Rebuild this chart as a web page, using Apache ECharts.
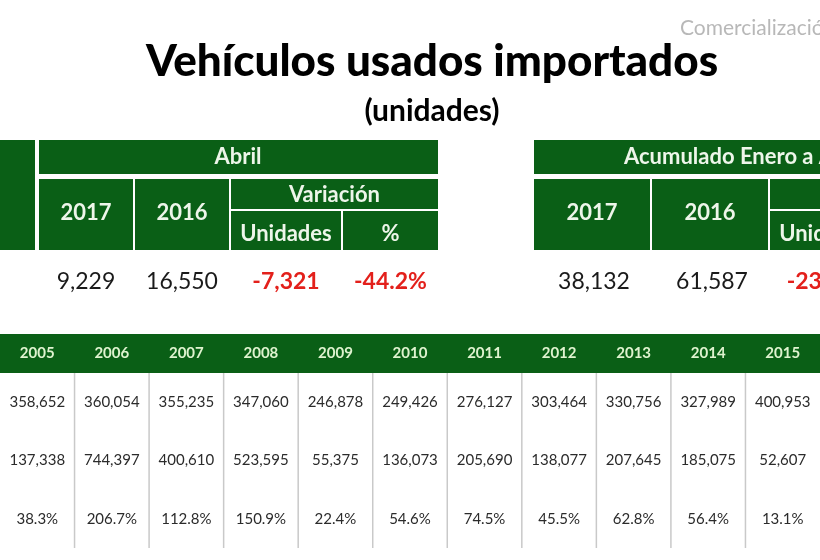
<!DOCTYPE html>
<html>
<head>
<meta charset="utf-8">
<script src="https://cdn.jsdelivr.net/npm/echarts@6/dist/echarts.min.js"></script>
<style>html,body{margin:0;padding:0;background:#fff}#c{width:820px;height:560px}</style>
</head>
<body>
<div id="c"></div>
<script>
// ---- data ----
var titleText = 'Vehículos usados importados';
var subtitleText = '(unidades)';
var cornerText = 'Comercialización';
var abrilHeader = 'Abril';
var acumHeader = 'Acumulado Enero a Abril';
var periodCols = ['2017', '2016'];
var variationHeader = 'Variación';
var variationCols = ['Unidades', '%'];
var abrilValues = [9229, 16550, -7321, -44.2];
var acumValues = [38132, 61587, -23455, -38.1];

var years = ['2005','2006','2007','2008','2009','2010','2011','2012','2013','2014','2015'];
var rowA = [358652, 360054, 355235, 347060, 246878, 249426, 276127, 303464, 330756, 327989, 400953];
var rowB = [137338, 744397, 400610, 523595, 55375, 136073, 205690, 138077, 207645, 185075, 52607];
var rowPct = [38.3, 206.7, 112.8, 150.9, 22.4, 54.6, 74.5, 45.5, 62.8, 56.4, 13.1];

// ---- styles ----
var GREEN = '#0a5f16';
var FONT = 'Lato, "Open Sans", sans-serif';
var RED = '#e3201b';
var HTXT = '#eef6ea';

function fmtInt(v){ return (v<0?'-':'') + Math.abs(v).toLocaleString('en-US'); }
function fmtPct(v){ return v.toFixed(1) + '%'; }

var chart = echarts.init(document.getElementById('c'), null, {renderer:'canvas'});

function headerBlock(x0, colW, label, labelX, labelAlign){
  var els = [];
  var wAll = colW[0]+colW[1]+colW[2]+colW[3]+6;
  els.push({type:'rect', shape:{x:x0, y:140, width:wAll, height:34}, style:{fill:GREEN}});
  els.push({type:'text', style:{text:label, x:labelX, y:157, textAlign:labelAlign, textVerticalAlign:'middle', font:'bold 22px '+FONT, fill:HTXT}});
  var x = x0;
  for (var i=0;i<2;i++){
    els.push({type:'rect', shape:{x:x, y:179, width:colW[i], height:71}, style:{fill:GREEN}});
    els.push({type:'text', style:{text:periodCols[i], x:x+colW[i]/2, y:213, textAlign:'center', textVerticalAlign:'middle', font:'bold 22px '+FONT, fill:HTXT}});
    x += colW[i]+2;
  }
  var vw = colW[2]+colW[3]+2;
  els.push({type:'rect', shape:{x:x, y:179, width:vw, height:30}, style:{fill:GREEN}});
  els.push({type:'text', style:{text:variationHeader, x:x+vw/2, y:195, textAlign:'center', textVerticalAlign:'middle', font:'bold 22px '+FONT, fill:HTXT}});
  for (var j=0;j<2;j++){
    els.push({type:'rect', shape:{x:x, y:211, width:colW[2+j], height:39}, style:{fill:GREEN}});
    els.push({type:'text', style:{text:variationCols[j], x:x+colW[2+j]/2, y:234, textAlign:'center', textVerticalAlign:'middle', font:'bold 22px '+FONT, fill:HTXT}});
    x += colW[2+j]+2;
  }
  return els;
}
function valueRow(x0, colW, vals){
  var els = [];
  var x = x0;
  for (var i=0;i<4;i++){
    var neg = vals[i] < 0;
    var t = i===3 ? fmtPct(vals[i]) : fmtInt(vals[i]);
    els.push({type:'text', style:{text:t, x:x+colW[i]/2, y:282, textAlign:'center', textVerticalAlign:'middle',
      font:(neg?'bold ':'')+'23px '+FONT, fill:neg?RED:'#1a1a1a'}});
    x += colW[i]+2;
  }
  return els;
}

var abrilW = [94, 94, 110, 95];
var acumW = [116, 116, 110, 95];

var graphics = [
  {type:'text', style:{text:titleText, x:432, y:62, textAlign:'center', textVerticalAlign:'middle', font:'900 44px '+FONT, fill:'#000'}},
  {type:'text', style:{text:subtitleText, x:432, y:111, textAlign:'center', textVerticalAlign:'middle', font:'bold 30px '+FONT, fill:'#000'}},
  {type:'text', style:{text:cornerText, x:680, y:28, textAlign:'left', textVerticalAlign:'middle', font:'21px '+FONT, fill:'#b8b8b8'}},
  {type:'rect', shape:{x:-5, y:140, width:40, height:110}, style:{fill:GREEN}}
].concat(headerBlock(39, abrilW, abrilHeader, 238, 'center'))
 .concat(headerBlock(534, acumW, acumHeader, 624, 'left'))
 .concat(valueRow(39, abrilW, abrilValues))
 .concat(valueRow(536, acumW, acumValues));

var cellData = [];
years.forEach(function(y,i){
  cellData.push([i, 0, fmtInt(rowA[i])]);
  cellData.push([i, 1, fmtInt(rowB[i])]);
  cellData.push([i, 2, fmtPct(rowPct[i])]);
});
var headData = years.map(function(y,i){ return [i, 0, y]; });

chart.setOption({
  animation:false,
  graphic: graphics,
  grid:{left:-9, right:-11, top:373, bottom:12},
  xAxis:{type:'category', data:years, show:false},
  yAxis:{type:'category', data:['a','b','c'], inverse:true, show:false},
  series:[
    {
      type:'custom',
      data: headData,
      renderItem:function(params, api){
        var c = api.coord([api.value(0), 0]);
        var sz = api.size([1,1]);
        var left = Math.floor(c[0]-sz[0]/2);
        var top = params.coordSys.y;
        var bottom = params.coordSys.y + params.coordSys.height;
        var ch = [
          {type:'rect', shape:{x:left, y:top-39, width:Math.ceil(sz[0])+2, height:39}, style:{fill:GREEN, stroke:null}},
          {type:'text', z2:10, style:{text:years[api.value(0)], x:c[0], y:top-20, textAlign:'center', textVerticalAlign:'middle', font:'bold 15px '+FONT, fill:'#dff3cf'}}
        ];
        if (api.value(0) > 0) {
          ch.push({type:'line', shape:{x1:c[0]-sz[0]/2, y1:top, x2:c[0]-sz[0]/2, y2:bottom}, style:{stroke:'#c9c9c9', lineWidth:1.5}});
        }
        return {type:'group', children:ch};
      }
    },
    {
      type:'custom',
      data: cellData,
      renderItem:function(params, api){
        var c = api.coord([api.value(0), api.value(1)]);
        var item = cellData[params.dataIndex];
        return {type:'text', style:{text:item[2], x:c[0], y:c[1], textAlign:'center', textVerticalAlign:'middle', font:'15px '+FONT, fill:'#2b2b2b'}};
      }
    }
  ]
});
</script>
</body>
</html>
